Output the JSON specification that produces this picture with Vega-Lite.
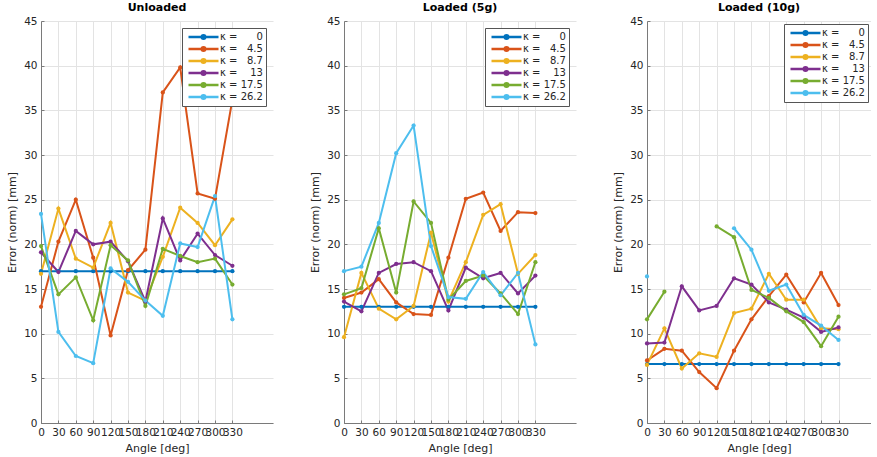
{
  "$schema": "https://vega.github.io/schema/vega-lite/v6.json",
  "padding": {"left": 6, "top": 2, "right": 0, "bottom": 0},
  "background": "white",
  "spacing": 36,
  "config": {
    "font": "DejaVu Sans",
    "view": {"stroke": null},
    "title": {"fontSize": 11, "fontWeight": "bold", "color": "#000000", "offset": 3},
    "axis": {
      "labelFontSize": 10.5, "labelColor": "#262626", "titleFontSize": 11, "titleFontWeight": "normal", "titleColor": "#262626",
      "domainColor": "#7a7a7a", "tickColor": "#7a7a7a", "gridColor": "#e3e3e3", "grid": true, "tickSize": -3, "labelOverlap": false, "labelFlush": false
    },
    "legend": {
      "orient": "top-right", "offset": 7, "fillColor": "white", "strokeColor": "#555555", "padding": 3,
      "labelFontSize": 10, "labelColor": "#262626",
      "symbolType": "M-3,0H3M0.36,0A0.36,0.36,0,1,1,-0.36,0A0.36,0.36,0,1,1,0.36,0", "symbolStrokeWidth": 2.5,
      "symbolSize": 100, "symbolOffset": 12, "rowPadding": 0, "clipHeight": 12, "title": null, "labelOffset": 10
    }
  },
  "datasets": {
    "errs": [
      {"p":"U","k":"0","a":0,"e":17.0},{"p":"U","k":"0","a":30,"e":17.0},{"p":"U","k":"0","a":60,"e":17.0},{"p":"U","k":"0","a":90,"e":17.0},{"p":"U","k":"0","a":120,"e":17.0},{"p":"U","k":"0","a":150,"e":17.0},{"p":"U","k":"0","a":180,"e":17.0},{"p":"U","k":"0","a":210,"e":17.0},{"p":"U","k":"0","a":240,"e":17.0},{"p":"U","k":"0","a":270,"e":17.0},{"p":"U","k":"0","a":300,"e":17.0},{"p":"U","k":"0","a":330,"e":17.0},
      {"p":"U","k":"4.5","a":0,"e":13.0},{"p":"U","k":"4.5","a":30,"e":20.3},{"p":"U","k":"4.5","a":60,"e":25.0},{"p":"U","k":"4.5","a":90,"e":18.5},{"p":"U","k":"4.5","a":120,"e":9.8},{"p":"U","k":"4.5","a":150,"e":17.1},{"p":"U","k":"4.5","a":180,"e":19.4},{"p":"U","k":"4.5","a":210,"e":37.0},{"p":"U","k":"4.5","a":240,"e":39.8},{"p":"U","k":"4.5","a":270,"e":25.7},{"p":"U","k":"4.5","a":300,"e":25.1},{"p":"U","k":"4.5","a":330,"e":36.2},
      {"p":"U","k":"8.7","a":0,"e":16.7},{"p":"U","k":"8.7","a":30,"e":24.0},{"p":"U","k":"8.7","a":60,"e":18.4},{"p":"U","k":"8.7","a":90,"e":17.4},{"p":"U","k":"8.7","a":120,"e":22.4},{"p":"U","k":"8.7","a":150,"e":14.6},{"p":"U","k":"8.7","a":180,"e":13.7},{"p":"U","k":"8.7","a":210,"e":18.6},{"p":"U","k":"8.7","a":240,"e":24.1},{"p":"U","k":"8.7","a":270,"e":22.4},{"p":"U","k":"8.7","a":300,"e":19.9},{"p":"U","k":"8.7","a":330,"e":22.8},
      {"p":"U","k":"13","a":0,"e":19.1},{"p":"U","k":"13","a":30,"e":16.9},{"p":"U","k":"13","a":60,"e":21.5},{"p":"U","k":"13","a":90,"e":20.0},{"p":"U","k":"13","a":120,"e":20.3},{"p":"U","k":"13","a":150,"e":18.1},{"p":"U","k":"13","a":180,"e":13.6},{"p":"U","k":"13","a":210,"e":22.9},{"p":"U","k":"13","a":240,"e":18.2},{"p":"U","k":"13","a":270,"e":21.2},{"p":"U","k":"13","a":300,"e":18.8},{"p":"U","k":"13","a":330,"e":17.6},
      {"p":"U","k":"17.5","a":0,"e":19.8},{"p":"U","k":"17.5","a":30,"e":14.4},{"p":"U","k":"17.5","a":60,"e":16.3},{"p":"U","k":"17.5","a":90,"e":11.5},{"p":"U","k":"17.5","a":120,"e":19.9},{"p":"U","k":"17.5","a":150,"e":18.2},{"p":"U","k":"17.5","a":180,"e":13.1},{"p":"U","k":"17.5","a":210,"e":19.5},{"p":"U","k":"17.5","a":240,"e":18.7},{"p":"U","k":"17.5","a":270,"e":18.0},{"p":"U","k":"17.5","a":300,"e":18.4},{"p":"U","k":"17.5","a":330,"e":15.5},
      {"p":"U","k":"26.2","a":0,"e":23.4},{"p":"U","k":"26.2","a":30,"e":10.2},{"p":"U","k":"26.2","a":60,"e":7.5},{"p":"U","k":"26.2","a":90,"e":6.7},{"p":"U","k":"26.2","a":120,"e":17.3},{"p":"U","k":"26.2","a":150,"e":15.8},{"p":"U","k":"26.2","a":180,"e":13.7},{"p":"U","k":"26.2","a":210,"e":12.0},{"p":"U","k":"26.2","a":240,"e":20.1},{"p":"U","k":"26.2","a":270,"e":19.7},{"p":"U","k":"26.2","a":300,"e":25.4},{"p":"U","k":"26.2","a":330,"e":11.6},

      {"p":"L5","k":"0","a":0,"e":13.0},{"p":"L5","k":"0","a":30,"e":13.0},{"p":"L5","k":"0","a":60,"e":13.0},{"p":"L5","k":"0","a":90,"e":13.0},{"p":"L5","k":"0","a":120,"e":13.0},{"p":"L5","k":"0","a":150,"e":13.0},{"p":"L5","k":"0","a":180,"e":13.0},{"p":"L5","k":"0","a":210,"e":13.0},{"p":"L5","k":"0","a":240,"e":13.0},{"p":"L5","k":"0","a":270,"e":13.0},{"p":"L5","k":"0","a":300,"e":13.0},{"p":"L5","k":"0","a":330,"e":13.0},
      {"p":"L5","k":"4.5","a":0,"e":14.0},{"p":"L5","k":"4.5","a":30,"e":14.6},{"p":"L5","k":"4.5","a":60,"e":16.1},{"p":"L5","k":"4.5","a":90,"e":13.5},{"p":"L5","k":"4.5","a":120,"e":12.2},{"p":"L5","k":"4.5","a":150,"e":12.1},{"p":"L5","k":"4.5","a":180,"e":18.5},{"p":"L5","k":"4.5","a":210,"e":25.1},{"p":"L5","k":"4.5","a":240,"e":25.8},{"p":"L5","k":"4.5","a":270,"e":21.5},{"p":"L5","k":"4.5","a":300,"e":23.6},{"p":"L5","k":"4.5","a":330,"e":23.5},
      {"p":"L5","k":"8.7","a":0,"e":9.6},{"p":"L5","k":"8.7","a":30,"e":16.8},{"p":"L5","k":"8.7","a":60,"e":12.8},{"p":"L5","k":"8.7","a":90,"e":11.6},{"p":"L5","k":"8.7","a":120,"e":13.1},{"p":"L5","k":"8.7","a":150,"e":21.3},{"p":"L5","k":"8.7","a":180,"e":13.6},{"p":"L5","k":"8.7","a":210,"e":18.0},{"p":"L5","k":"8.7","a":240,"e":23.3},{"p":"L5","k":"8.7","a":270,"e":24.5},{"p":"L5","k":"8.7","a":300,"e":16.7},{"p":"L5","k":"8.7","a":330,"e":18.8},
      {"p":"L5","k":"13","a":0,"e":13.6},{"p":"L5","k":"13","a":30,"e":12.5},{"p":"L5","k":"13","a":60,"e":16.8},{"p":"L5","k":"13","a":90,"e":17.8},{"p":"L5","k":"13","a":120,"e":18.0},{"p":"L5","k":"13","a":150,"e":17.0},{"p":"L5","k":"13","a":180,"e":12.6},{"p":"L5","k":"13","a":210,"e":17.4},{"p":"L5","k":"13","a":240,"e":16.2},{"p":"L5","k":"13","a":270,"e":16.8},{"p":"L5","k":"13","a":300,"e":14.5},{"p":"L5","k":"13","a":330,"e":16.5},
      {"p":"L5","k":"17.5","a":0,"e":14.4},{"p":"L5","k":"17.5","a":30,"e":15.1},{"p":"L5","k":"17.5","a":60,"e":21.8},{"p":"L5","k":"17.5","a":90,"e":14.6},{"p":"L5","k":"17.5","a":120,"e":24.8},{"p":"L5","k":"17.5","a":150,"e":22.4},{"p":"L5","k":"17.5","a":180,"e":13.8},{"p":"L5","k":"17.5","a":210,"e":15.9},{"p":"L5","k":"17.5","a":240,"e":16.5},{"p":"L5","k":"17.5","a":270,"e":14.5},{"p":"L5","k":"17.5","a":300,"e":12.2},{"p":"L5","k":"17.5","a":330,"e":18.0},
      {"p":"L5","k":"26.2","a":0,"e":17.0},{"p":"L5","k":"26.2","a":30,"e":17.5},{"p":"L5","k":"26.2","a":60,"e":22.4},{"p":"L5","k":"26.2","a":90,"e":30.2},{"p":"L5","k":"26.2","a":120,"e":33.3},{"p":"L5","k":"26.2","a":150,"e":19.8},{"p":"L5","k":"26.2","a":180,"e":14.1},{"p":"L5","k":"26.2","a":210,"e":13.9},{"p":"L5","k":"26.2","a":240,"e":16.9},{"p":"L5","k":"26.2","a":270,"e":14.3},{"p":"L5","k":"26.2","a":300,"e":16.8},{"p":"L5","k":"26.2","a":330,"e":8.8},

      {"p":"L10","k":"0","a":0,"e":6.6},{"p":"L10","k":"0","a":30,"e":6.6},{"p":"L10","k":"0","a":60,"e":6.6},{"p":"L10","k":"0","a":90,"e":6.6},{"p":"L10","k":"0","a":120,"e":6.6},{"p":"L10","k":"0","a":150,"e":6.6},{"p":"L10","k":"0","a":180,"e":6.6},{"p":"L10","k":"0","a":210,"e":6.6},{"p":"L10","k":"0","a":240,"e":6.6},{"p":"L10","k":"0","a":270,"e":6.6},{"p":"L10","k":"0","a":300,"e":6.6},{"p":"L10","k":"0","a":330,"e":6.6},
      {"p":"L10","k":"4.5","a":0,"e":7.0},{"p":"L10","k":"4.5","a":30,"e":8.3},{"p":"L10","k":"4.5","a":60,"e":8.1},{"p":"L10","k":"4.5","a":90,"e":5.7},{"p":"L10","k":"4.5","a":120,"e":3.9},{"p":"L10","k":"4.5","a":150,"e":8.1},{"p":"L10","k":"4.5","a":180,"e":11.6},{"p":"L10","k":"4.5","a":210,"e":14.2},{"p":"L10","k":"4.5","a":240,"e":16.6},{"p":"L10","k":"4.5","a":270,"e":13.5},{"p":"L10","k":"4.5","a":300,"e":16.8},{"p":"L10","k":"4.5","a":330,"e":13.2},
      {"p":"L10","k":"8.7","a":0,"e":6.5},{"p":"L10","k":"8.7","a":30,"e":10.6},{"p":"L10","k":"8.7","a":60,"e":6.1},{"p":"L10","k":"8.7","a":90,"e":7.8},{"p":"L10","k":"8.7","a":120,"e":7.4},{"p":"L10","k":"8.7","a":150,"e":12.3},{"p":"L10","k":"8.7","a":180,"e":12.8},{"p":"L10","k":"8.7","a":210,"e":16.7},{"p":"L10","k":"8.7","a":240,"e":13.8},{"p":"L10","k":"8.7","a":270,"e":13.8},{"p":"L10","k":"8.7","a":300,"e":10.6},{"p":"L10","k":"8.7","a":330,"e":10.5},
      {"p":"L10","k":"13","a":0,"e":8.9},{"p":"L10","k":"13","a":30,"e":9.0},{"p":"L10","k":"13","a":60,"e":15.3},{"p":"L10","k":"13","a":90,"e":12.6},{"p":"L10","k":"13","a":120,"e":13.1},{"p":"L10","k":"13","a":150,"e":16.2},{"p":"L10","k":"13","a":180,"e":15.5},{"p":"L10","k":"13","a":210,"e":13.5},{"p":"L10","k":"13","a":240,"e":12.7},{"p":"L10","k":"13","a":270,"e":11.8},{"p":"L10","k":"13","a":300,"e":10.2},{"p":"L10","k":"13","a":330,"e":10.7},
      {"p":"L10","k":"17.5","a":0,"e":11.6},{"p":"L10","k":"17.5","a":30,"e":14.7},{"p":"L10","k":"17.5","a":60,"e":null},{"p":"L10","k":"17.5","a":90,"e":null},{"p":"L10","k":"17.5","a":120,"e":22.0},{"p":"L10","k":"17.5","a":150,"e":20.8},{"p":"L10","k":"17.5","a":180,"e":14.9},{"p":"L10","k":"17.5","a":210,"e":14.0},{"p":"L10","k":"17.5","a":240,"e":12.5},{"p":"L10","k":"17.5","a":270,"e":11.3},{"p":"L10","k":"17.5","a":300,"e":8.6},{"p":"L10","k":"17.5","a":330,"e":11.9},
      {"p":"L10","k":"26.2","a":0,"e":16.4},{"p":"L10","k":"26.2","a":30,"e":null},{"p":"L10","k":"26.2","a":60,"e":null},{"p":"L10","k":"26.2","a":90,"e":null},{"p":"L10","k":"26.2","a":120,"e":null},{"p":"L10","k":"26.2","a":150,"e":21.8},{"p":"L10","k":"26.2","a":180,"e":19.4},{"p":"L10","k":"26.2","a":210,"e":14.8},{"p":"L10","k":"26.2","a":240,"e":15.5},{"p":"L10","k":"26.2","a":270,"e":12.1},{"p":"L10","k":"26.2","a":300,"e":10.9},{"p":"L10","k":"26.2","a":330,"e":9.3}
    ]
  },
  "resolve": {"legend": {"color": "independent"}},
  "hconcat": [
    {
      "title": "Unloaded",
      "width": 232, "height": 402,
      "data": {"name": "errs"},
      "transform": [{"filter": "datum.p == 'U'"}],
      "encoding": {
        "x": {"field": "a", "type": "quantitative", "title": "Angle [deg]", "scale": {"domain": [0, 400], "nice": false},
              "axis": {"values": [0,30,60,90,120,150,180,210,240,270,300,330], "labelPadding": 7, "titlePadding": 5}},
        "y": {"field": "e", "type": "quantitative", "title": "Error (norm) [mm]", "scale": {"domain": [0, 45], "nice": false},
              "axis": {"values": [0,5,10,15,20,25,30,35,40,45], "labelPadding": 7, "titlePadding": 6}},
        "color": {"field": "k", "type": "nominal", "sort": ["0","4.5","8.7","13","17.5","26.2"],
                  "scale": {"domain": ["0","4.5","8.7","13","17.5","26.2"], "range": ["#0072BD","#D95319","#EDB120","#7E2F8E","#77AC30","#4DBEEE"]}}
      },
      "layer": [
        {"mark": {"type": "line", "strokeWidth": 2, "invalid": "break-paths-filter-domains"},
         "encoding": {"color": {"field": "k", "type": "nominal", "scale": {"domain": ["0","4.5","8.7","13","17.5","26.2"], "range": ["#0072BD","#D95319","#EDB120","#7E2F8E","#77AC30","#4DBEEE"]},
           "legend": {"labelExpr": "'κ = ' + (datum.label == '0' ? '\u2007\u2007\u2008' : (datum.label == '4.5' || datum.label == '8.7') ? '\u2007' : datum.label == '13' ? '\u2007\u2008' : '') + datum.label"}}}},
        {"mark": {"type": "point", "filled": true, "size": 18, "opacity": 1}}
      ]
    },
    {
      "title": "Loaded (5g)",
      "width": 232, "height": 402,
      "data": {"name": "errs"},
      "transform": [{"filter": "datum.p == 'L5'"}],
      "encoding": {
        "x": {"field": "a", "type": "quantitative", "title": "Angle [deg]", "scale": {"domain": [0, 400], "nice": false},
              "axis": {"values": [0,30,60,90,120,150,180,210,240,270,300,330], "labelPadding": 7, "titlePadding": 5}},
        "y": {"field": "e", "type": "quantitative", "title": "Error (norm) [mm]", "scale": {"domain": [0, 45], "nice": false},
              "axis": {"values": [0,5,10,15,20,25,30,35,40,45], "labelPadding": 7, "titlePadding": 6}},
        "color": {"field": "k", "type": "nominal", "sort": ["0","4.5","8.7","13","17.5","26.2"],
                  "scale": {"domain": ["0","4.5","8.7","13","17.5","26.2"], "range": ["#0072BD","#D95319","#EDB120","#7E2F8E","#77AC30","#4DBEEE"]}}
      },
      "layer": [
        {"mark": {"type": "line", "strokeWidth": 2, "invalid": "break-paths-filter-domains"},
         "encoding": {"color": {"field": "k", "type": "nominal", "scale": {"domain": ["0","4.5","8.7","13","17.5","26.2"], "range": ["#0072BD","#D95319","#EDB120","#7E2F8E","#77AC30","#4DBEEE"]},
           "legend": {"labelExpr": "'κ = ' + (datum.label == '0' ? '\u2007\u2007\u2008' : (datum.label == '4.5' || datum.label == '8.7') ? '\u2007' : datum.label == '13' ? '\u2007\u2008' : '') + datum.label"}}}},
        {"mark": {"type": "point", "filled": true, "size": 18, "opacity": 1}}
      ]
    },
    {
      "title": "Loaded (10g)",
      "width": 224, "height": 402,
      "data": {"name": "errs"},
      "transform": [{"filter": "datum.p == 'L10'"}],
      "encoding": {
        "x": {"field": "a", "type": "quantitative", "title": "Angle [deg]", "scale": {"domain": [0, 386], "nice": false},
              "axis": {"values": [0,30,60,90,120,150,180,210,240,270,300,330], "labelPadding": 7, "titlePadding": 5}},
        "y": {"field": "e", "type": "quantitative", "title": "Error (norm) [mm]", "scale": {"domain": [0, 45], "nice": false},
              "axis": {"values": [0,5,10,15,20,25,30,35,40,45], "labelPadding": 7, "titlePadding": 6}},
        "color": {"field": "k", "type": "nominal", "sort": ["0","4.5","8.7","13","17.5","26.2"],
                  "scale": {"domain": ["0","4.5","8.7","13","17.5","26.2"], "range": ["#0072BD","#D95319","#EDB120","#7E2F8E","#77AC30","#4DBEEE"]}}
      },
      "layer": [
        {"mark": {"type": "line", "strokeWidth": 2, "invalid": "break-paths-filter-domains"},
         "encoding": {"color": {"field": "k", "type": "nominal", "scale": {"domain": ["0","4.5","8.7","13","17.5","26.2"], "range": ["#0072BD","#D95319","#EDB120","#7E2F8E","#77AC30","#4DBEEE"]},
           "legend": {"offset": 3, "labelExpr": "'κ = ' + (datum.label == '0' ? '\u2007\u2007\u2008' : (datum.label == '4.5' || datum.label == '8.7') ? '\u2007' : datum.label == '13' ? '\u2007\u2008' : '') + datum.label"}}}},
        {"mark": {"type": "point", "filled": true, "size": 18, "opacity": 1}}
      ]
    }
  ]
}
